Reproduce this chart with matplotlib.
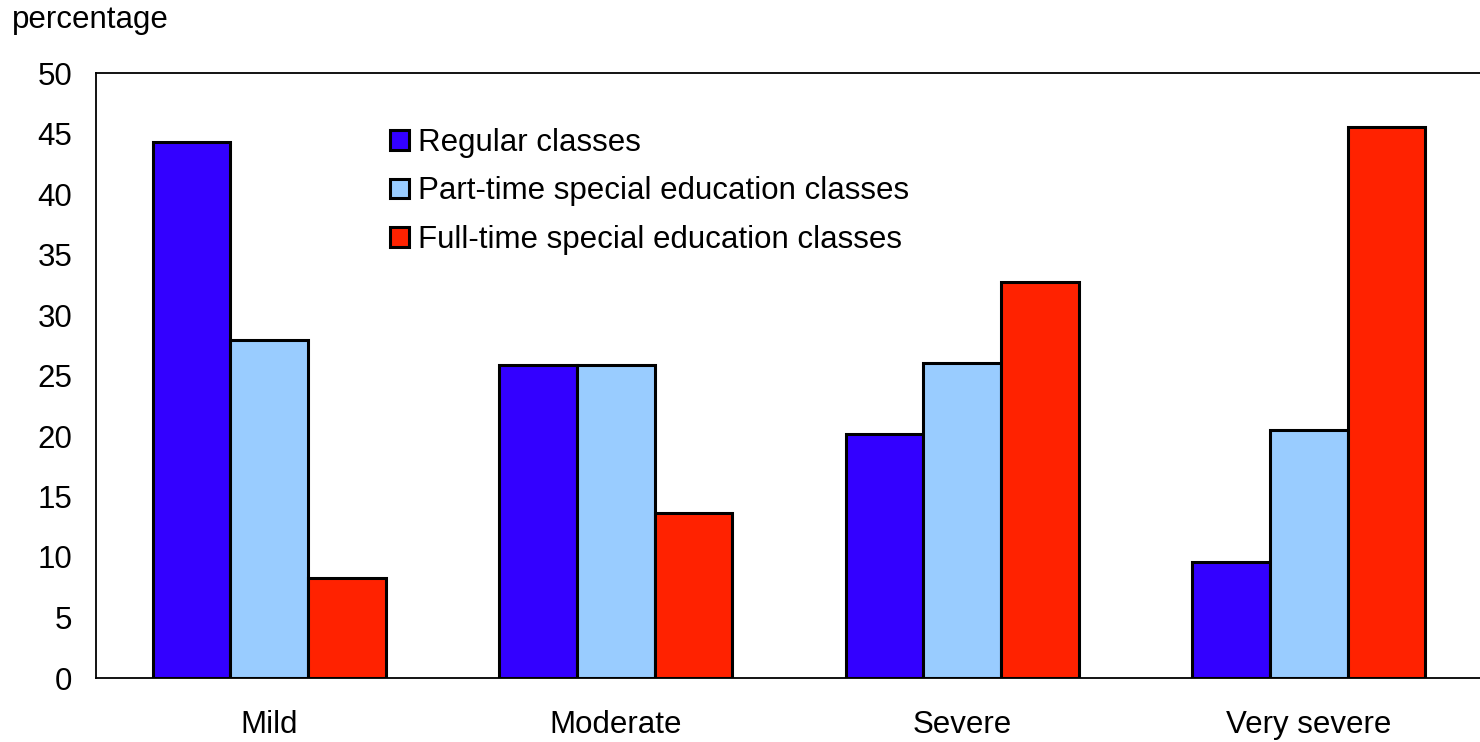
import numpy as np
import matplotlib
matplotlib.use("Agg")
import matplotlib.pyplot as plt

plt.rcParams['font.family'] = ['Liberation Sans', 'DejaVu Sans']

categories = ["Mild", "Moderate", "Severe", "Very severe"]
series_names = ["Regular classes",
                "Part-time special education classes",
                "Full-time special education classes"]
regular = [44.3, 25.9, 20.2, 9.6]
part_time = [27.9, 25.9, 26.0, 20.5]
full_time = [8.3, 13.6, 32.7, 45.5]
yticks = [0, 5, 10, 15, 20, 25, 30, 35, 40, 45, 50]

colors = ["#3300FF", "#99CCFF", "#FF2200"]

fig = plt.figure(figsize=(14.8, 7.42), dpi=100)
ax = fig.add_axes([96 / 1480, 1 - 678 / 742, 1386 / 1480, 605 / 742])

x = np.arange(len(categories))
w = 0.224
for i, (vals, name) in enumerate(zip([regular, part_time, full_time], series_names)):
    ax.bar(x + (i - 1) * w, vals, width=w, color=colors[i], edgecolor="black",
           linewidth=2.2, label=name, zorder=3)

ax.set_xlim(-0.5, len(categories) - 0.5)
ax.set_ylim(0, 50)
ax.set_yticks(yticks)
ax.set_xticks(x)
ax.set_xticklabels(categories)
ax.tick_params(axis="both", length=0, labelsize=22.5)
ax.tick_params(axis="x", pad=23)
ax.tick_params(axis="y", pad=17)
ax.spines["right"].set_visible(False)
for s in ["left", "top", "bottom"]:
    ax.spines[s].set_linewidth(1.3)

fig.text(12 / 1480, 1 - 20 / 742, "percentage", fontsize=22.5, va="center", ha="left")

ax.legend(loc="upper left", bbox_to_anchor=(390 / 1480, 1 - 128 / 742),
          bbox_transform=fig.transFigure, frameon=False, fontsize=22.5,
          handlelength=0.6, handleheight=0.6, handletextpad=0.3,
          labelspacing=0.59, borderpad=0, borderaxespad=0)

fig.savefig("out.png", dpi=100)
